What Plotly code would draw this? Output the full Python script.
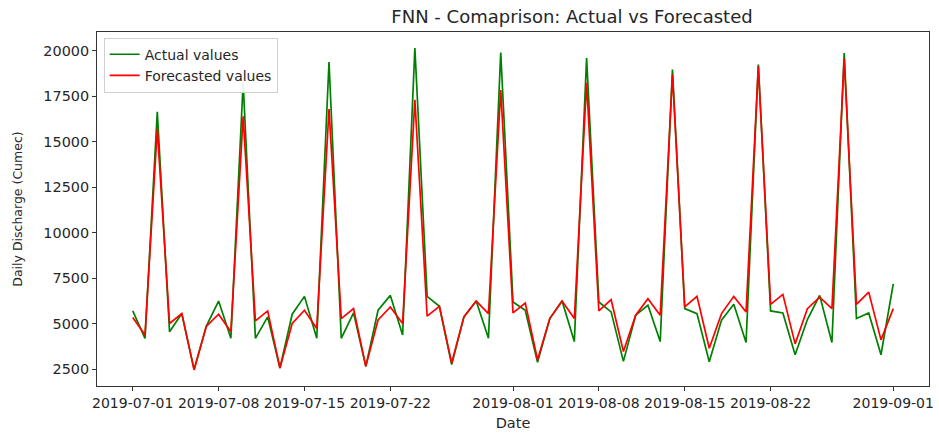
import pandas as pd
import plotly.graph_objects as go

start_date = "2019-07-01"
n_days = 63
actual = [5694, 4187, 16647, 4551, 5547, 2480, 4860, 6238, 4187, 18246,
          4187, 5367, 2555, 5513, 6494, 4187, 19389, 4187, 5585, 2647,
          5732, 6548, 4370, 20150, 6494, 5950, 2750, 5367, 6238, 4187,
          19912, 6184, 5732, 2870, 5275, 6238, 4007, 19600, 6184, 5640,
          2919, 5460, 6004, 4007, 18970, 5819, 5547, 2900, 5188, 6058,
          3953, 19242, 5694, 5585, 3283, 5221, 6548, 3953, 19878, 5275,
          5585, 3283, 7179]
forecast = [5330, 4370, 15706, 5003, 5547, 2450, 4850, 5513, 4551, 16397,
            5150, 5694, 2555, 5003, 5732, 4731, 16793, 5275, 5819, 2647,
            5200, 5911, 5003, 17300, 5405, 5950, 2826, 5367, 6238, 5547,
            17843, 5585, 6129, 3011, 5275, 6238, 5275, 18246, 5694, 6311,
            3463, 5460, 6363, 5460, 18698, 5911, 6494, 3643, 5547, 6494,
            5640, 19150, 6058, 6603, 3882, 5819, 6450, 5819, 19552, 6058,
            6728, 4100, 5819]
tick_dates = ["2019-07-01", "2019-07-08", "2019-07-15", "2019-07-22",
              "2019-08-01", "2019-08-08", "2019-08-15", "2019-08-22", "2019-09-01"]
y_ticks = [2500, 5000, 7500, 10000, 12500, 15000, 17500, 20000]

dates = pd.date_range(start_date, periods=n_days, freq="D")

FONT = "DejaVu Sans"
TXT = "#262626"

fig = go.Figure()
fig.add_trace(go.Scatter(x=dates, y=actual, mode="lines", name="Actual values",
                         line=dict(color="green", width=1.7)))
fig.add_trace(go.Scatter(x=dates, y=forecast, mode="lines", name="Forecasted values",
                         line=dict(color="red", width=1.7)))

span = dates[-1] - dates[0]
xr = [dates[0] - span * 0.047, dates[-1] + span * 0.047]
allv = actual + forecast
vmin, vmax = min(allv), max(allv)
yspan = vmax - vmin
yr = [vmin - 0.05 * yspan, vmax + 0.05 * yspan]

fig.update_layout(
    width=939, height=434,
    margin=dict(l=97, r=5, t=32, b=44),
    paper_bgcolor="white", plot_bgcolor="white",
    font=dict(family=FONT, size=14, color=TXT),
    title=dict(text="FNN - Comaprison: Actual vs Forecasted", x=572 / 939, xanchor="center",
               y=1 - 17 / 434, yanchor="middle", font=dict(family=FONT, size=18, color=TXT)),
    showlegend=True,
    legend=dict(x=0.008, y=0.984, xanchor="left", yanchor="top",
                bgcolor="rgba(255,255,255,0.9)", bordercolor="#d0d0d0", borderwidth=1,
                font=dict(family=FONT, size=14, color=TXT), tracegroupgap=0,
                itemwidth=30),
)
fig.update_xaxes(
    range=xr, tickvals=pd.to_datetime(tick_dates), ticktext=tick_dates, tickangle=0,
    showgrid=False, zeroline=False, showline=True, linecolor="#333333", linewidth=1,
    mirror=True, ticks="outside", ticklen=4, tickcolor="#333333",
    tickfont=dict(family=FONT, size=14, color=TXT),
    title=dict(text="Date", standoff=8, font=dict(family=FONT, size=14.5, color=TXT)),
)
fig.update_yaxes(
    range=yr, tickvals=y_ticks, ticktext=[str(v) for v in y_ticks],
    showgrid=False, zeroline=False, showline=True, linecolor="#333333", linewidth=1,
    mirror=True, ticks="outside", ticklen=4, tickcolor="#333333",
    tickfont=dict(family=FONT, size=14.4, color=TXT),
    title=dict(text="Daily Discharge (Cumec)", standoff=17, font=dict(family=FONT, size=12.5, color=TXT)),
)

fig.write_html("out.html")
